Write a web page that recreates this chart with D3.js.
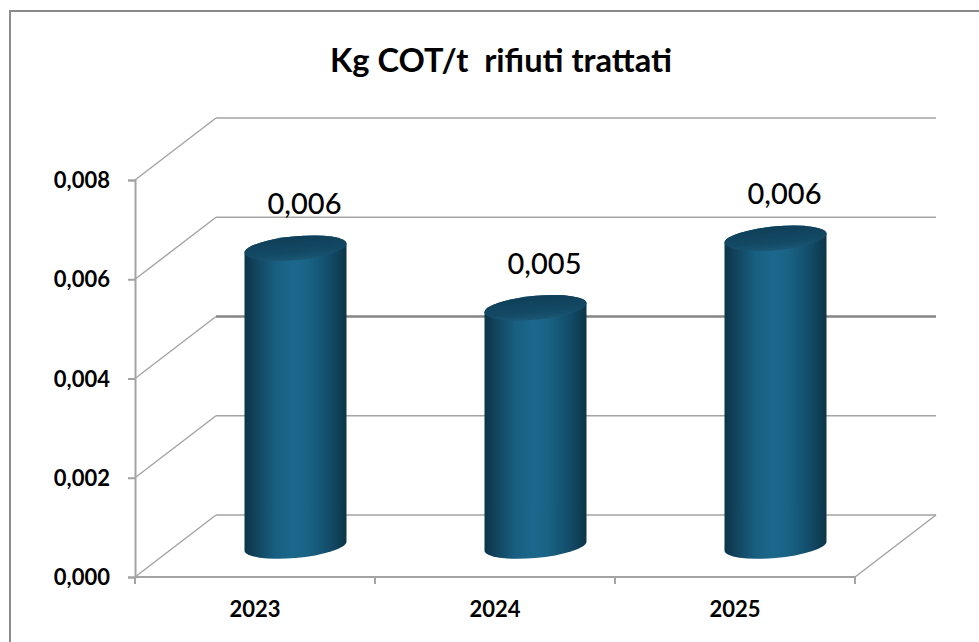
<!DOCTYPE html>
<html>
<head>
<meta charset="utf-8">
<script src="https://cdn.jsdelivr.net/npm/d3@7"></script>
<style>
  html, body { margin: 0; padding: 0; background: #fff; }
  svg { display: block; }
</style>
</head>
<body>
<svg id="chart" width="979" height="642"></svg>
<script>
// ---- data ----
const title = "Kg COT/t  rifiuti trattati";
const categories = ["2023", "2024", "2025"];
const values = [0.0060, 0.0048, 0.0062];
const valueLabels = ["0,006", "0,005", "0,006"];
const yTicks = [0, 0.002, 0.004, 0.006, 0.008];
const yTickLabels = ["0,000", "0,002", "0,004", "0,006", "0,008"];

// ---- layout ----
const svg = d3.select("#chart");
const fontFam = "Lato, 'Open Sans', 'Liberation Sans', sans-serif";

const x = d3.scaleBand().domain(categories).range([135, 855]).padding(0);
const y = d3.scaleLinear().domain([0, 0.008]).range([577, 180]);
const DX = 81, DY = -62;          // 3D depth offset
const rx = 51, ry = 12, skew = -5; // cylinder geometry

// defs: gradients
const defs = svg.append("defs");
const sideGrad = defs.append("linearGradient").attr("id", "cylSide")
  .attr("x1", "0%").attr("x2", "100%").attr("y1", "0%").attr("y2", "0%");
[["0%", "#0b3448"], ["8%", "#113f58"], ["30%", "#185e80"], ["48%", "#1b688c"],
 ["62%", "#196385"], ["85%", "#124a66"], ["100%", "#0c3548"]]
  .forEach(([o, c]) => sideGrad.append("stop").attr("offset", o).attr("stop-color", c));
const topGrad = defs.append("linearGradient").attr("id", "cylTop")
  .attr("x1", "0%").attr("x2", "0%").attr("y1", "0%").attr("y2", "100%");
[["0%", "#0f3f58"], ["70%", "#144a65"], ["100%", "#1a5774"]]
  .forEach(([o, c]) => topGrad.append("stop").attr("offset", o).attr("stop-color", c));

// outer frame
svg.append("rect").attr("x", 10).attr("y", 11).attr("width", 1000).attr("height", 700)
  .attr("fill", "#fff").attr("stroke", "#8a8a8a").attr("stroke-width", 2);

// title
svg.append("text").attr("x", 501).attr("y", 72).attr("text-anchor", "middle")
  .attr("font-family", fontFam).attr("font-weight", 700).attr("font-size", 32)
  .attr("textLength", 342).attr("lengthAdjust", "spacingAndGlyphs")
  .style("white-space", "pre")
  .attr("fill", "#000").text(title);

// back wall gridlines + side wall diagonals
const grid = svg.append("g");
const x0 = x.range()[0], x1 = x.range()[1];
yTicks.forEach((t) => {
  const mid = t === 0.004;
  const col = mid ? "#858585" : "#a3a3a3";
  const sw = mid ? 2.5 : 1.6;
  grid.append("line").attr("x1", x0 + DX).attr("x2", x1 + DX)
    .attr("y1", y(t) + DY).attr("y2", y(t) + DY).attr("stroke", col).attr("stroke-width", sw);
  grid.append("line").attr("x1", x0).attr("x2", x0 + DX)
    .attr("y1", y(t)).attr("y2", y(t) + DY).attr("stroke", "#a3a3a3").attr("stroke-width", 1.4);
});
// floor front edge and right edge
grid.append("line").attr("x1", x0).attr("x2", x1).attr("y1", y(0)).attr("y2", y(0))
  .attr("stroke", "#a3a3a3").attr("stroke-width", 2);
grid.append("line").attr("x1", x1).attr("x2", x1 + DX).attr("y1", y(0)).attr("y2", y(0) + DY)
  .attr("stroke", "#a3a3a3").attr("stroke-width", 1.4);

// y axis (front)
const yAxis = d3.axisLeft(y).tickValues(yTicks).tickSize(7).tickPadding(18)
  .tickFormat((d, i) => yTickLabels[i]);
const gy = svg.append("g").attr("transform", `translate(${x0},0)`).call(yAxis);
gy.select(".domain").attr("stroke", "#a3a3a3").attr("stroke-width", 2);
gy.selectAll(".tick line").attr("stroke", "#a3a3a3").attr("stroke-width", 2);
gy.selectAll(".tick text").attr("font-family", fontFam).attr("font-weight", 700)
  .attr("font-size", 22).attr("fill", "#000").attr("dy", "0.35em");

// x axis (front)
const xAxis = d3.axisBottom(x).tickSize(0).tickPadding(24);
const gx = svg.append("g").attr("transform", `translate(0,${y(0)})`).call(xAxis);
gx.select(".domain").remove();
gx.selectAll(".tick text").attr("font-family", fontFam).attr("font-weight", 700)
  .attr("font-size", 22).attr("fill", "#000");
// category boundary ticks
const bounds = categories.map(c => x(c)).concat([x1]);
svg.append("g").selectAll("line").data(bounds).join("line")
  .attr("x1", d => d).attr("x2", d => d).attr("y1", y(0)).attr("y2", y(0) + 7)
  .attr("stroke", "#a3a3a3").attr("stroke-width", 2);

// cylinders
const data = categories.map((c, i) => ({ c, v: values[i], lab: valueLabels[i] }));
const cyl = svg.append("g").selectAll("g").data(data).join("g")
  .attr("transform", d => `translate(${x(d.c) + x.bandwidth() / 2 + DX / 2},0) skewY(${skew})`);
cyl.append("path")
  .attr("d", d => {
    const yt = y(d.v) + DY / 2, yb = y(0) + DY / 2;
    return `M${-rx},${yt} L${-rx},${yb} A${rx},${ry} 0 0 0 ${rx},${yb} L${rx},${yt} A${rx},${ry} 0 0 0 ${-rx},${yt} Z`;
  })
  .attr("fill", "url(#cylSide)");
cyl.append("ellipse").attr("cx", 0).attr("cy", d => y(d.v) + DY / 2)
  .attr("rx", rx).attr("ry", ry).attr("fill", "url(#cylTop)");

// value labels
svg.append("g").selectAll("text").data(data).join("text")
  .attr("x", d => x(d.c) + x.bandwidth() / 2 + DX / 2 + 9)
  .attr("y", d => y(d.v) + DY / 2 - ry - 22)
  .attr("text-anchor", "middle")
  .attr("font-family", fontFam).attr("font-size", 29).attr("font-weight", 500)
  .attr("fill", "#000").text(d => d.lab);
</script>
</body>
</html>
